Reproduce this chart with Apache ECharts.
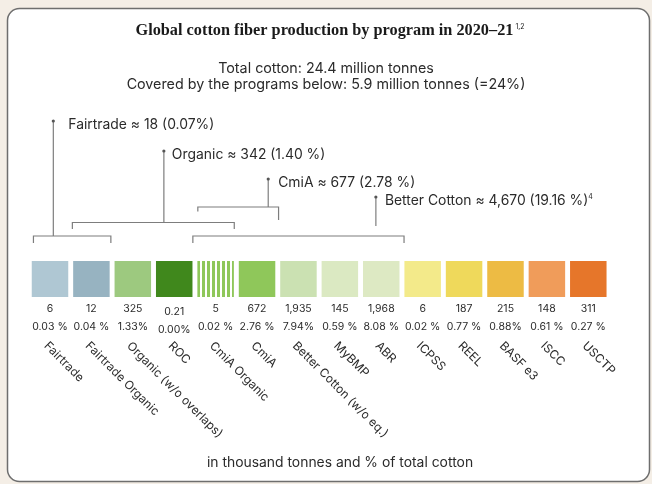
<!DOCTYPE html>
<html><head><meta charset="utf-8">
<script src="https://cdn.jsdelivr.net/npm/echarts@6/dist/echarts.min.js"></script>
<style>html,body{margin:0;padding:0;background:#f4eee6;} #c{width:652px;height:484px;}</style>
</head><body><div id="c"></div>
<script>
// ---- data ----
const programs = ['Fairtrade','Fairtrade Organic','Organic (w/o overlaps)','ROC','CmiA Organic','CmiA','Better Cotton (w/o eq.)','MyBMP','ABR','ICPSS','REEL','BASF e3','ISCC','USCTP'];
const volumes = ['6','12','325','0.21','5','672','1,935','145','1,968','6','187','215','148','311'];
const shares = ['0.03 %','0.04 %','1.33%','0.00%','0.02 %','2.76 %','7.94%','0.59 %','8.08 %','0.02 %','0.77 %','0.88%','0.61 %','0.27 %'];
// every program is drawn as one same-sized square
const squareValue = [1,1,1,1,1,1,1,1,1,1,1,1,1,1];
const groupNames = ['Fairtrade','Organic','CmiA','Better Cotton'];
const groupVolumes = ['18','342','677','4,670'];
const groupShares = ['(0.07%)','(1.40 %)','(2.78 %)','(19.16 %)'];
const groupNotes = ['','','','4'];
const groupFirst = [0,1,4,4];
const groupLast = [1,4,5,8];

// ---- styles / layout ----
const palette = ['#afc7d3','#97b3c1','#9dc97f','#40881c','#8fc75a','#8fc75a','#cbe1b2','#dbe9c2','#dde9c3','#f3ea8a','#efd95b','#edbb44','#f09c5a','#e6762a'];
const bracketLayout = {
  level:   [2.5, 3.85, 5.4, 2.5],
  stemAt:  [0.08, 2.75, 5.27, 7.87],
  stemTop: [14.0, 11.0, 8.2, 6.4],
  stemBase:[2.5, 3.85, 5.4, 3.5],
  padL: [0.40, 0.46, 0.43, 0.55],
  padR: [0.47, 0.45, 0.52, 0.55],
  tickL: [0.7, 0.65, 0.45, 0.7],
  tickR: [0.7, 0.65, 1.3, 0.7],
  labelDx: [15, 8, 10, 9]
};
const valueLabelDrop = {3: 3};   // ROC figures sit slightly lower
const SANS = 'Inter, "Liberation Sans", sans-serif';
const TXT = '#2b2b2b';

const chart = echarts.init(document.getElementById('c'));
chart.setOption({
  animation: false,
  backgroundColor: '#f4eee6',
  graphic: [
    {type:'rect', z:-10, shape:{x:7.5,y:8.5,width:642,height:473,r:12}, style:{fill:'#ffffff', stroke:'#6e6e6e', lineWidth:1.5}},
    {type:'text', x:330, y:31, style:{text:'{a|Global cotton fiber production by program in 2020–21}{b| 1,2}', align:'center', verticalAlign:'middle',
      rich:{a:{fontFamily:'"Liberation Serif", serif', fontWeight:'bold', fontSize:16.3, fill:'#1a1a1a'}, b:{fontFamily:SANS, fontSize:7, fill:'#1a1a1a', padding:[0,0,9,0]}}}},
    {type:'text', x:326, y:69, style:{text:'Total cotton: 24.4 million tonnes', align:'center', verticalAlign:'middle', fontFamily:SANS, fontSize:14.3, fill:TXT}},
    {type:'text', x:326, y:84.5, style:{text:'Covered by the programs below: 5.9 million tonnes (=24%)', align:'center', verticalAlign:'middle', fontFamily:SANS, fontSize:14.3, fill:TXT}},
    {type:'text', x:340, y:463, style:{text:'in thousand tonnes and % of total cotton', align:'center', verticalAlign:'middle', fontFamily:SANS, fontSize:13.9, fill:TXT}}
  ],
  grid: [
    {left:29.3, width:579.7, top:261, height:36},
    {left:29.3, width:579.7, top:101, height:160},
    {left:25.3, width:579.7, top:261, height:36}
  ],
  xAxis: [
    {gridIndex:0, type:'category',
     data: programs.map((p,i)=> valueLabelDrop[i] ? {value:p, textStyle:{padding:[valueLabelDrop[i],0,0,0]}} : p),
     axisLine:{show:false}, axisTick:{show:false}, splitLine:{show:false},
     axisLabel:{interval:0, margin:3, fontFamily:SANS, fontSize:10.5, lineHeight:18, color:TXT,
       formatter:(v,i)=>volumes[i]+'\n'+shares[i]}},
    {gridIndex:2, type:'category', data:programs, position:'bottom', offset:40, axisLine:{show:false}, axisTick:{show:false},
     axisLabel:{interval:0, rotate:-45, margin:7, fontFamily:SANS, fontSize:12, color:TXT}},
    {gridIndex:1, type:'category', data:programs, show:false}
  ],
  yAxis: [
    {gridIndex:0, type:'value', min:0, max:1, show:false},
    {gridIndex:1, type:'value', min:0, max:16, show:false},
    {gridIndex:2, type:'value', min:0, max:1, show:false}
  ],
  series: [
    {type:'bar', xAxisIndex:0, yAxisIndex:0, barWidth:36.5,
     data: squareValue.map((v,i)=>({value:v, itemStyle:{color:palette[i],
       decal: programs[i]==='CmiA Organic' ? {symbol:'rect', symbolSize:1, dashArrayX:[1.6,3], dashArrayY:[40,0], rotation:0, color:'#ffffff'} : undefined}}))},
    {type:'custom', xAxisIndex:2, yAxisIndex:1,
     data: groupNames.map((n,i)=>[groupFirst[i], groupLast[i], i]),
     renderItem: function(params, api){
       const i = params.dataIndex, L = bracketLayout;
       const first = api.value(0), last = api.value(1);
       const band = api.size([1,0])[0];
       const yH = api.coord([0, L.level[i]])[1];
       const x0 = api.coord([first, 0])[0] - L.padL[i]*band;
       const x1 = api.coord([last, 0])[0] + L.padR[i]*band;
       const yL = api.coord([0, L.level[i]-L.tickL[i]])[1];
       const yR = api.coord([0, L.level[i]-L.tickR[i]])[1];
       const sx = api.coord([0, 0])[0] + L.stemAt[i]*band;
       const yTop = api.coord([0, L.stemTop[i]])[1];
       const yBase = api.coord([0, L.stemBase[i]])[1];
       const line = {stroke:'#7d7d7d', lineWidth:1.2, fill:null};
       const label = groupNames[i]+' ≈ '+groupVolumes[i]+' '+groupShares[i] + (groupNotes[i] ? '{s|'+groupNotes[i]+'}' : '');
       return {type:'group', children:[
         {type:'polyline', shape:{points:[[x0,yL],[x0,yH],[x1,yH],[x1,yR]]}, style:line},
         {type:'line', shape:{x1:sx,y1:yBase,x2:sx,y2:yTop}, style:line},
         {type:'circle', shape:{cx:sx, cy:yTop, r:1.6}, style:{fill:'#555'}},
         {type:'text', x:sx+L.labelDx[i], y:yTop+4, style:{text:label, align:'left', verticalAlign:'middle', fontFamily:SANS, fontSize:13.9, fill:TXT,
           rich:{s:{fontFamily:SANS, fontSize:7, fill:TXT, padding:[0,0,8,0]}}}}
       ]};
     }}
  ]
});
</script></body></html>
